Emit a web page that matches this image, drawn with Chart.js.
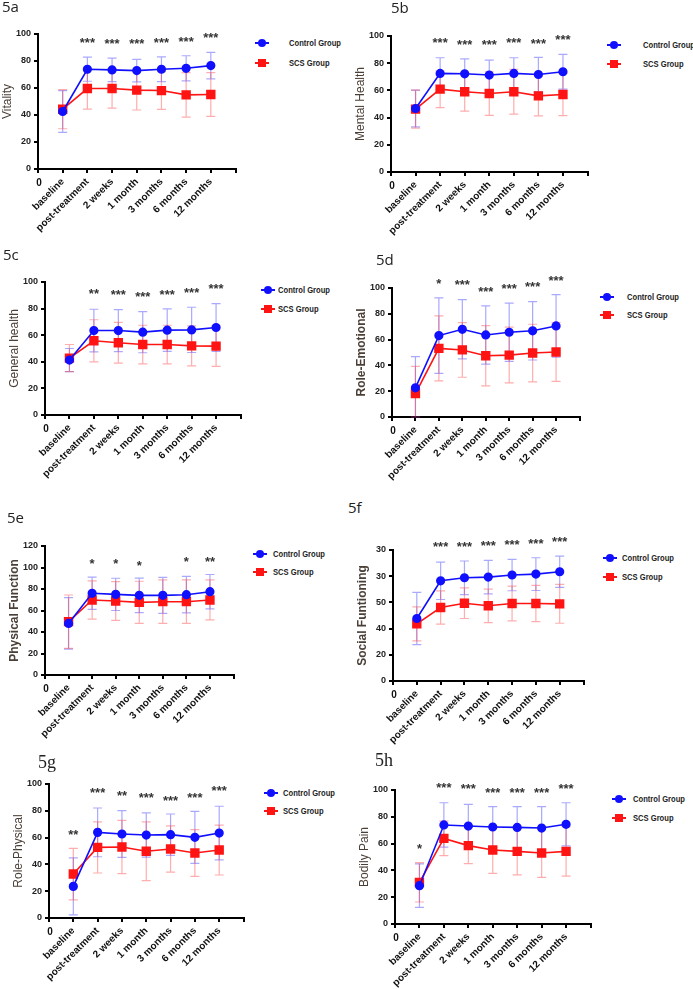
<!DOCTYPE html>
<html>
<head>
<meta charset="utf-8">
<script src="https://cdn.jsdelivr.net/npm/chart.js@4.4.0/dist/chart.umd.min.js"></script>
<style>
    body { margin: 0; background: #fff; width: 693px; height: 989px; position: relative; overflow: hidden; font-family: Arial, "Liberation Sans", sans-serif; }
    .panel { position: absolute; }
    .tag { position: absolute; font-family: "Open Sans", "Liberation Sans", sans-serif; font-size: 15px; line-height: 15px; color: #222; }
    .tag.serif { font-family: "Liberation Serif", "DejaVu Serif", serif; font-size: 18px; line-height: 18px; }
    .leg-line { position: absolute; height: 2px; }
    .leg-mark { position: absolute; width: 8px; height: 8px; }
    .leg-text { position: absolute; font-family: Arial, "Liberation Sans", sans-serif; font-weight: bold; font-size: 9.5px; line-height: 12px; color: #222; white-space: nowrap; transform: scaleX(0.8); transform-origin: left center; }
</style>
</head>
<body>
<script>
    // ---- data ----
    const timepoints = ['baseline', 'post-treatment', '2 weeks', '1 month', '3 months', '6 months', '12 months'];

    // 5a Vitality
    const vitalityControl = [42.6, 73.9, 73.4, 72.9, 73.9, 74.6, 76.6];
    const vitalityControlSD = [15.5, 8.9, 8.7, 8.3, 9.2, 9.3, 9.8];
    const vitalitySCS = [44.3, 59.6, 59.6, 58.4, 58.1, 54.9, 55.2];
    const vitalitySCSSD = [14.5, 15.3, 14.5, 14.7, 14.0, 16.5, 16.2];
    const vitalityStars = ['', '***', '***', '***', '***', '***', '***'];
    const vitalityStarY = [null, 95.6, 94.8, 94.3, 95.6, 96.3, 99.3];

    // 5b Mental Health
    const mentalControl = [46.7, 72.5, 72.2, 71.3, 72.5, 71.7, 73.7];
    const mentalControlSD = [13.5, 11.5, 11.0, 11.0, 11.5, 12.6, 12.8];
    const mentalSCS = [46.2, 60.9, 59.0, 57.7, 59.0, 56.0, 57.0];
    const mentalSCSSD = [14.0, 13.5, 14.3, 16.0, 16.5, 14.7, 15.5];
    const mentalStars = ['', '***', '***', '***', '***', '***', '***'];
    const mentalStarY = [null, 96.6, 95.0, 95.0, 97.0, 96.3, 98.8];

    // 5c General health
    const generalControl = [41.3, 63.5, 63.5, 62.3, 63.8, 64.0, 65.8];
    const generalControlSD = [8.7, 16.0, 15.8, 15.5, 16.0, 17.0, 18.0];
    const generalSCS = [42.8, 55.8, 54.3, 53.0, 53.0, 52.0, 51.8];
    const generalSCSSD = [10.2, 15.8, 15.3, 14.5, 14.5, 15.0, 15.3];
    const generalStars = ['', '**', '***', '***', '***', '***', '***'];
    const generalStarY = [null, 93.0, 92.0, 90.8, 92.5, 93.8, 96.8];

    // 5d Role-Emotional
    const emotionalControl = [22.6, 63.1, 68.0, 63.6, 65.7, 66.8, 70.6];
    const emotionalControlSD = [24.2, 29.3, 23.0, 22.6, 22.6, 22.6, 24.2];
    const emotionalSCS = [18.2, 53.2, 52.0, 47.5, 48.0, 49.6, 50.4];
    const emotionalSCSSD = [21.0, 25.2, 21.2, 23.4, 21.6, 22.3, 22.8];
    const emotionalStars = ['', '*', '***', '***', '***', '***', '***'];
    const emotionalStarY = [null, 105.2, 104.4, 99.2, 101.3, 103.1, 107.8];

    // 5e Physical Function
    const physicalControl = [48.0, 76.0, 75.0, 74.1, 74.1, 74.7, 77.5];
    const physicalControlSD = [24.0, 15.0, 15.0, 16.0, 16.8, 17.0, 16.0];
    const physicalSCS = [49.6, 69.8, 68.8, 67.6, 68.2, 68.2, 69.8];
    const physicalSCSSD = [24.8, 17.8, 18.0, 19.6, 20.2, 20.2, 18.6];
    const physicalStars = ['', '*', '*', '*', '', '*', '**'];
    const physicalStarY = [null, 105.4, 105.4, 103.9, null, 107.6, 107.6];

    // 5f Social Funtioning
    const socialControl = [47.7, 76.5, 78.8, 79.3, 80.9, 81.6, 83.4];
    const socialControlSD = [20.0, 14.3, 12.8, 12.8, 12.0, 12.5, 12.0];
    const socialSCS = [43.6, 56.1, 59.4, 57.4, 59.2, 59.2, 58.9];
    const socialSCSSD = [13.0, 12.7, 11.7, 12.8, 13.3, 13.8, 14.8];
    const socialStars = ['', '***', '***', '***', '***', '***', '***'];
    const socialStarY = [null, 104.3, 104.3, 105.1, 105.9, 106.9, 108.2];
    const socialTickLabels = ['0', '20', '40', '50', '30', '30'];

    // 5g Role-Physical
    const rolePhysControl = [23.6, 63.9, 62.7, 61.9, 62.2, 60.2, 63.4];
    const rolePhysControlSD = [21.2, 18.2, 17.4, 16.5, 15.4, 19.4, 20.0];
    const rolePhysSCS = [32.8, 52.7, 53.0, 49.8, 51.5, 48.5, 50.7];
    const rolePhysSCSSD = [19.2, 19.1, 19.9, 21.9, 17.2, 17.4, 18.6];
    const rolePhysStars = ['**', '***', '**', '***', '***', '***', '***'];
    const rolePhysStarY = [64.2, 95.0, 92.8, 91.3, 89.6, 91.3, 96.5];

    // 5h Bodily Pain
    const painControl = [28.6, 73.9, 73.1, 72.4, 72.1, 71.6, 74.4];
    const painControlSD = [16.2, 16.6, 16.2, 15.2, 15.5, 16.0, 16.1];
    const painSCS = [31.1, 63.9, 58.5, 55.2, 54.2, 53.0, 54.2];
    const painSCSSD = [14.7, 12.9, 13.5, 17.4, 17.6, 18.2, 18.4];
    const painStars = ['*', '***', '***', '***', '***', '***', '***'];
    const painStarY = [57.7, 103.7, 103.0, 100.0, 100.0, 100.0, 103.0];

    const seriesNames = ['Control Group', 'SCS Group'];
    const CONTROL = '#1010ff';
    const SCS = '#ff1414';

    // ---- panel layout: page coords of y-axis, last x tick, y max and y 0 ----
    const panels = [
        { tag: '5a', yTitle: 'Vitality', yMax: 100, c: vitalityControl, cSD: vitalityControlSD, s: vitalitySCS, sSD: vitalitySCSSD, stars: vitalityStars, starY: vitalityStarY,
          box: [38, 241, 34, 169], tagAt: [2, -1], leg: [255, 43, 289, 20] },
        { tag: '5b', yTitle: 'Mental Health', yMax: 100, c: mentalControl, cSD: mentalControlSD, s: mentalSCS, sSD: mentalSCSSD, stars: mentalStars, starY: mentalStarY,
          box: [391, 593, 36, 172], tagAt: [391, 0], leg: [607, 45, 643, 19] },
        { tag: '5c', yTitle: 'General health', yMax: 100, c: generalControl, cSD: generalControlSD, s: generalSCS, sSD: generalSCSSD, stars: generalStars, starY: generalStarY,
          box: [45, 246, 282, 415], tagAt: [3, 247], leg: [261, 290, 278, 19] },
        { tag: '5d', yTitle: 'Role-Emotional', yMax: 100, bold: true, c: emotionalControl, cSD: emotionalControlSD, s: emotionalSCS, sSD: emotionalSCSSD, stars: emotionalStars, starY: emotionalStarY,
          box: [392, 585, 288, 417], tagAt: [376, 252], leg: [600, 297, 627, 18] },
        { tag: '5e', yTitle: 'Physical Function', yMax: 120, bold: true, c: physicalControl, cSD: physicalControlSD, s: physicalSCS, sSD: physicalSCSSD, stars: physicalStars, starY: physicalStarY,
          box: [45, 239, 546, 675], tagAt: [7, 510], leg: [253, 554, 273, 18] },
        { tag: '5f', yTitle: 'Social Funtioning', yMax: 100, bold: true, tickLabels: socialTickLabels, c: socialControl, cSD: socialControlSD, s: socialSCS, sSD: socialSCSSD, stars: socialStars, starY: socialStarY,
          box: [393, 589, 550, 681], tagAt: [348, 500], leg: [603, 558, 622, 19] },
        { tag: '5g', serif: true, yTitle: 'Role-Physical', yMax: 100, c: rolePhysControl, cSD: rolePhysControlSD, s: rolePhysSCS, sSD: rolePhysSCSSD, stars: rolePhysStars, starY: rolePhysStarY,
          box: [49, 249, 784, 918], tagAt: [38, 753], leg: [264, 793, 283, 18] },
        { tag: '5h', serif: true, yTitle: 'Bodily Pain', yMax: 100, c: painControl, cSD: painControlSD, s: painSCS, sSD: painSCSSD, stars: painStars, starY: painStarY,
          box: [395, 596, 790, 924], tagAt: [375, 751], leg: [612, 799, 633, 19] }
    ];

    const xLabels = ['', ...timepoints, ''];
    const PAD_L = 42, PAD_T = 30, PAD_R = 6, PAD_B = 72;

    // error bars (mean +/- SD) drawn through the chart's own scales
    const errorBarPlugin = {
        id: 'errorBars',
        beforeDatasetsDraw(chart) {
            const ctx = chart.ctx;
            const yScale = chart.scales.y;
            chart.data.datasets.forEach((ds, i) => {
                const meta = chart.getDatasetMeta(i);
                ctx.save();
                ctx.strokeStyle = ds.barColor;
                ctx.lineWidth = 1.2;
                meta.data.forEach((pt, j) => {
                    const v = ds.data[j].y;
                    const sd = ds.sd[j];
                    const yHi = yScale.getPixelForValue(v + sd);
                    const yLo = yScale.getPixelForValue(Math.max(0, v - sd));
                    ctx.beginPath();
                    ctx.moveTo(pt.x, yHi); ctx.lineTo(pt.x, yLo);
                    ctx.moveTo(pt.x - 4.5, yHi); ctx.lineTo(pt.x + 4.5, yHi);
                    ctx.moveTo(pt.x - 4.5, yLo); ctx.lineTo(pt.x + 4.5, yLo);
                    ctx.stroke();
                });
                ctx.restore();
            });
        }
    };

    // significance stars + the "0" at the origin of the category axis
    const starsPlugin = {
        id: 'stars',
        afterDraw(chart, args, opts) {
            const ctx = chart.ctx;
            const xs = chart.scales.x, ys = chart.scales.y;
            ctx.save();
            ctx.fillStyle = '#333';
            ctx.textAlign = 'center';
            ctx.textBaseline = 'middle';
            ctx.font = 'bold 13px Arial, "Liberation Sans", sans-serif';
            opts.labels.forEach((s, j) => {
                if (!s) return;
                ctx.fillText(s, xs.getPixelForValue(j + 1), ys.getPixelForValue(opts.y[j]) + 3);
            });
            ctx.font = 'bold 10px Arial, "Liberation Sans", sans-serif';
            ctx.fillStyle = '#111';
            ctx.fillText('0', xs.getPixelForValue(0) + 1, xs.top + 14);
            ctx.restore();
        }
    };

    function addLegend(p) {
        const [lx, ly, tx, dy] = p.leg;
        [CONTROL, SCS].forEach((col, k) => {
            const y = ly + k * dy;
            const line = document.createElement('div');
            line.className = 'leg-line';
            line.style.cssText = `left:${lx}px;top:${y - 1}px;width:14px;background:${col}`;
            const mark = document.createElement('div');
            mark.className = 'leg-mark';
            mark.style.cssText = `left:${lx + 3}px;top:${y - 4}px;background:${col};border-radius:${k === 0 ? '50%' : '0'}`;
            const txt = document.createElement('div');
            txt.className = 'leg-text';
            txt.style.cssText = `left:${tx}px;top:${y - 6}px`;
            txt.textContent = seriesNames[k];
            document.body.append(line, mark, txt);
        });
    }

    function renderPanel(p) {
        const [axisX, lastX, yTop, yBot] = p.box;
        const div = document.createElement('div');
        div.className = 'panel';
        const w = lastX - axisX + PAD_L + PAD_R;
        const h = yBot - yTop + PAD_T + PAD_B;
        div.style.cssText = `left:${axisX - PAD_L}px;top:${yTop - PAD_T}px;width:${w}px;height:${h}px`;
        const canvas = document.createElement('canvas');
        div.appendChild(canvas);
        document.body.appendChild(div);

        const tag = document.createElement('div');
        tag.className = 'tag' + (p.serif ? ' serif' : '');
        tag.style.left = p.tagAt[0] + 'px';
        tag.style.top = p.tagAt[1] + 'px';
        tag.textContent = p.tag;
        document.body.appendChild(tag);
        addLegend(p);

        const toPts = arr => arr.map((v, i) => ({ x: i + 1, y: v }));

        new Chart(canvas, {
            type: 'line',
            data: {
                datasets: [{
                    label: seriesNames[0],
                    data: toPts(p.c),
                    sd: p.cSD,
                    barColor: 'rgba(40, 40, 255, 0.4)',
                    borderColor: CONTROL,
                    backgroundColor: CONTROL,
                    borderWidth: 1.6,
                    pointStyle: 'circle',
                    pointRadius: 3.8,
                    tension: 0
                }, {
                    label: seriesNames[1],
                    data: toPts(p.s),
                    sd: p.sSD,
                    barColor: 'rgba(255, 50, 50, 0.4)',
                    borderColor: SCS,
                    backgroundColor: SCS,
                    borderWidth: 1.6,
                    pointStyle: 'rect',
                    pointRadius: 5.5,
                    tension: 0
                }]
            },
            options: {
                responsive: true,
                maintainAspectRatio: false,
                animation: false,
                devicePixelRatio: 1,
                layout: { padding: { left: 0, top: PAD_T, right: PAD_R, bottom: 0 } },
                plugins: {
                    legend: { display: false },
                    tooltip: { enabled: false },
                    stars: { labels: p.stars, y: p.starY }
                },
                scales: {
                    x: {
                        type: 'linear',
                        min: 0,
                        max: 8,
                        afterFit(scale) { scale.height = PAD_B; },
                        border: { color: '#000', width: 2 },
                        grid: { drawOnChartArea: false, drawTicks: true, tickLength: 4, color: '#000', lineWidth: 2 },
                        ticks: {
                            stepSize: 1,
                            autoSkip: false,
                            minRotation: 45,
                            maxRotation: 45,
                            padding: 3,
                            color: '#111',
                            font: { family: 'Arial, "Liberation Sans", sans-serif', size: 10, weight: 'bold' },
                            callback: v => xLabels[v]
                        }
                    },
                    y: {
                        min: 0,
                        max: p.yMax,
                        afterFit(scale) { scale.width = PAD_L; },
                        border: { color: '#000', width: 2 },
                        grid: { drawOnChartArea: false, drawTicks: true, tickLength: 4, color: '#000', lineWidth: 2 },
                        ticks: {
                            stepSize: 20,
                            padding: 3,
                            color: '#222',
                            font: { family: 'Arial, "Liberation Sans", sans-serif', size: 9, weight: 'bold' },
                            callback: v => p.tickLabels ? p.tickLabels[v / 20] : v
                        },
                        title: {
                            display: true,
                            text: p.yTitle,
                            color: '#4b4038',
                            padding: { top: 4, bottom: 0 },
                            font: { family: 'Arial, "Liberation Sans", sans-serif', size: 12, weight: p.bold ? 'bold' : 'normal' }
                        }
                    }
                }
            },
            plugins: [errorBarPlugin, starsPlugin]
        });
    }

    panels.forEach(renderPanel);
</script>
</body>
</html>
